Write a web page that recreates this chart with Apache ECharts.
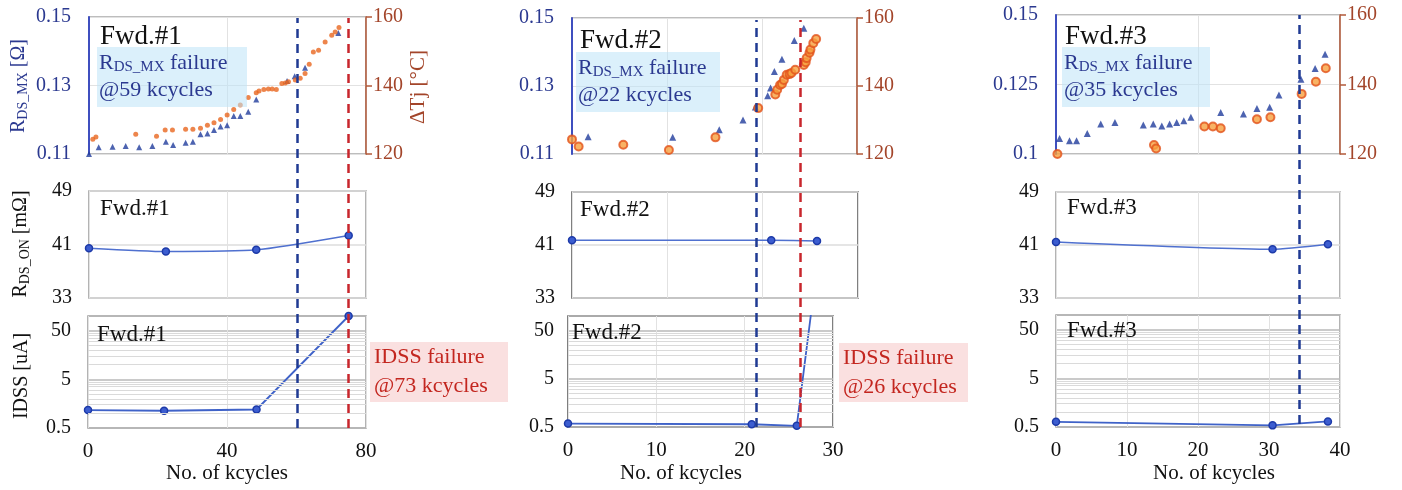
<!DOCTYPE html>
<html>
<head>
<meta charset="utf-8">
<script src="https://cdn.jsdelivr.net/npm/echarts@6/dist/echarts.min.js"></script>
<style>
  html, body { margin: 0; padding: 0; background: #fff; }
  #chart { width: 1402px; height: 490px; }
</style>
</head>
<body>
<div id="chart"></div>
<script>
// ---------------- data ----------------
// x: kcycles, RDS_MX in ohm (left axis), junction temperature swing in degC (right axis)
const rdsMx1 = [[0,0.110],[2.8,0.1120],[6.8,0.1121],[10.6,0.1123],[14.5,0.1120],[18.3,0.1123],[22.2,0.1136],[24.3,0.1126],[27.9,0.1133],[30.0,0.1136],[32.2,0.1158],[34.2,0.1160],[36.1,0.1170],[38.0,0.1180],[39.9,0.1184],[41.8,0.1211],[43.7,0.1211],[46.0,0.1223],[48.3,0.1259],[57.2,0.1313],[59.4,0.1327],[62.4,0.1352],[72.0,0.1453]];
const tj1 = [[1.1,124.3],[2.0,125.0],[13.5,125.8],[19.5,125.2],[22.0,127.0],[24.1,127.0],[27.9,127.2],[30.0,127.2],[32.2,127.5],[34.2,128.4],[36.1,129.1],[38.0,130.1],[39.9,131.4],[41.8,133.0],[43.7,134.3],[46.0,136.5],[48.3,137.9],[49.1,138.4],[50.5,138.8],[51.8,139.0],[52.9,139.0],[54.1,138.8],[55.7,140.6],[56.7,140.7],[57.6,141.1],[59.6,141.6],[61.0,142.1],[62.4,143.5],[63.6,146.2],[64.8,149.8],[66.3,150.3],[68.2,152.7],[70.1,154.7],[71.1,155.6],[72.2,156.9]];

const rdsMx2 = [[1.7,0.1151],[10.6,0.1149],[15.5,0.1171],[18.0,0.1200],[19.3,0.1238],[20.6,0.1271],[20.9,0.1294],[21.3,0.1343],[22.1,0.1379],[23.4,0.1434],[24.4,0.1470]];
const tj2 = [[0.0,124.3],[0.7,122.2],[5.4,122.7],[10.2,121.2],[15.1,124.9],[19.6,133.5],[21.4,137.5],[21.6,138.9],[21.9,140.3],[22.1,140.6],[22.3,141.8],[22.6,143.3],[22.9,143.5],[23.1,143.8],[23.5,144.8],[24.4,146.2],[24.6,147.0],[24.7,148.2],[25.0,149.8],[25.1,150.7],[25.4,152.6],[25.7,153.8]];

const rdsMx3 = [[0.5,0.1056],[1.9,0.1048],[2.9,0.1048],[4.4,0.1074],[6.3,0.1108],[8.3,0.1113],[12.3,0.1104],[13.7,0.1108],[14.9,0.1101],[16.0,0.1108],[17.0,0.1113],[18.0,0.1120],[19.0,0.1132],[23.2,0.1149],[26.4,0.1144],[28.3,0.1164],[30.1,0.1168],[31.4,0.1212],[34.5,0.1269],[36.5,0.1308],[37.9,0.1359]];
const tj3 = [[0.2,120.0],[13.8,122.6],[14.1,121.6],[20.9,127.9],[22.1,127.9],[23.2,127.4],[28.3,130.0],[30.2,130.6],[34.6,137.3],[36.6,140.8],[38.0,144.7]];

// on-state resistance in mOhm
const rdsOn1 = [[0,40.45],[22.2,39.95],[48.3,40.2],[75,42.35]];
const rdsOn2 = [[0,41.7],[20.9,41.7],[25.7,41.6]];
const rdsOn3 = [[0,41.45],[30.5,40.35],[38.3,41.1]];

// drain leakage in uA
const idss1 = [[0,1.17],[21.9,1.13],[48.5,1.2],[75,100]];
const idss2 = [[0,0.59],[20.8,0.57],[25.9,0.53],[27.6,150]];
const idss3 = [[0,0.64],[30.5,0.54],[38.3,0.65]];

// failure markers (kcycles): RDS_MX failure (blue), IDSS failure (red)
const rdsFailAt = [60.1, 21.3, 34.3];
const idssFailAt = [75.0, 26.3, null];

const deviceNames = ['Fwd.#1', 'Fwd.#2', 'Fwd.#3'];
const rdsFailText = ['@59 kcycles', '@22 kcycles', '@35 kcycles'];
const idssFailText = ['@73 kcycles', '@26 kcycles', null];

// axes
const xMax = [80, 30, 40];
const xStepBottom = [40, 10, 10];
const xStepTop = [40, 10, 20];
const rdsMxRange = [[0.11, 0.15, 0.02], [0.11, 0.15, 0.02], [0.10, 0.15, 0.025]];
const tjRange = [120, 160, 20];
const rdsOnRange = [33, 49, 8];
const idssTicks = [0.5, 5, 50];
const idssTop = 100;
const idssMinor = [1, 1.5, 2, 2.5, 3, 3.5, 4, 4.5, 10, 15, 20, 25, 30, 35, 40, 45];

// ---------------- layout ----------------
const FONT = 'Liberation Serif';
const NAVY = '#2b3990';
const BROWN = '#a3452a';
const BLUE_DASH = '#1f3a93';
const RED_DASH = '#c8262c';

// [left, width] for top / middle / bottom rows of each column
const colBox = [
  { top: [89, 277], mid: [89, 277], bot: [88, 278] },
  { top: [572, 285], mid: [572, 286], bot: [568, 265] },
  { top: [1056, 284], mid: [1056, 284], bot: [1056, 284] }
];
const rowY = [
  { top: [17, 137], mid: [191, 107], bot: [316, 112] },
  { top: [18, 136], mid: [192, 106], bot: [316, 111] },
  { top: [15, 139], mid: [192, 106], bot: [315, 112] }
];
const overlayY = [[18, 410], [20, 407], [15, 409]];
const borderCol = ['#9a9a9a', '#555555', '#9a9a9a'];

const toLog = v => Math.log10(v / idssTicks[0]);

const grids = [], xAxes = [], yAxes = [], series = [];

function addGrid(left, width, top, height, border) {
  grids.push({
    left, width, top, height, containLabel: false,
    show: !!border, borderColor: border || 'transparent', borderWidth: 1.5,
    backgroundColor: 'transparent'
  });
  return grids.length - 1;
}

function addX(gi, max, interval, labels) {
  xAxes.push({
    type: 'value', gridIndex: gi, min: 0, max, interval,
    axisLine: { show: false }, axisTick: { show: false },
    axisLabel: { show: labels, color: '#111', fontFamily: FONT, fontSize: 21, margin: 13 },
    splitLine: { show: true, lineStyle: { color: '#e2e2e2', width: 1 } }
  });
  return xAxes.length - 1;
}

function addY(cfg) {
  yAxes.push(Object.assign({ type: 'value' }, cfg));
  return yAxes.length - 1;
}

for (let c = 0; c < 3; c++) {
  const bx = colBox[c], ry = rowY[c];
  const rdsMx = [rdsMx1, rdsMx2, rdsMx3][c];
  const tj = [tj1, tj2, tj3][c];
  const rdsOn = [rdsOn1, rdsOn2, rdsOn3][c];
  const idss = [idss1, idss2, idss3][c];

  // ---- top: RDS_MX and junction temperature swing ----
  let g = addGrid(bx.top[0], bx.top[1], ry.top[0], ry.top[1], '#a8a8a8');
  let xi = addX(g, xMax[c], xStepTop[c], false);
  const rr = rdsMxRange[c];
  let yl = addY({
    gridIndex: g, position: 'left', min: rr[0], max: rr[1], interval: rr[2],
    axisLine: { show: true, onZero: false, lineStyle: { color: '#3f4fbf', width: 2 } },
    axisTick: { show: false },
    axisLabel: { color: NAVY, fontFamily: FONT, fontSize: 20, margin: 18 },
    splitLine: { show: true, lineStyle: { color: '#e2e2e2', width: 1 } }
  });
  let yr = addY({
    gridIndex: g, position: 'right', min: tjRange[0], max: tjRange[1], interval: tjRange[2],
    axisLine: { show: true, onZero: false, lineStyle: { color: '#b35a3a', width: 1.5 } },
    axisTick: { show: true, inside: false, length: 6, lineStyle: { color: '#b35a3a', width: 1.5 } },
    axisLabel: { color: BROWN, fontFamily: FONT, fontSize: 20, margin: 7 },
    splitLine: { show: false }
  });
  series.push({
    type: 'scatter', xAxisIndex: xi, yAxisIndex: yl, data: rdsMx,
    symbol: 'triangle', symbolSize: c === 0 ? 6 : 7,
    itemStyle: { color: '#203c9c' }, z: 3
  });
  series.push({
    type: 'scatter', xAxisIndex: xi, yAxisIndex: yr, data: tj,
    symbol: 'circle', symbolSize: c === 0 ? 5 : 8,
    itemStyle: c === 0 ? { color: '#e8661f' } : { color: '#f6a03e', borderColor: '#e2531c', borderWidth: 2 },
    z: 4
  });

  // ---- middle: RDS_ON ----
  g = addGrid(bx.mid[0], bx.mid[1], ry.mid[0], ry.mid[1], borderCol[c]);
  xi = addX(g, xMax[c], xStepTop[c], false);
  let ym = addY({
    gridIndex: g, min: rdsOnRange[0], max: rdsOnRange[1], interval: rdsOnRange[2],
    axisLine: { show: false }, axisTick: { show: false },
    axisLabel: { color: '#111', fontFamily: FONT, fontSize: 20, margin: 17 },
    splitLine: { show: true, lineStyle: { color: '#dcdcdc', width: 1.5 } }
  });
  series.push({
    type: 'line', xAxisIndex: xi, yAxisIndex: ym, data: rdsOn, smooth: 0.2,
    symbol: 'circle', symbolSize: 7,
    lineStyle: { color: '#4f70cf', width: 1.5 },
    itemStyle: { color: '#3c5dd0', borderColor: '#1d3aa8', borderWidth: 1.5 }, z: 3
  });

  // ---- bottom: IDSS on a logarithmic scale ----
  g = addGrid(bx.bot[0], bx.bot[1], ry.bot[0], ry.bot[1], borderCol[c]);
  xi = addX(g, xMax[c], xStepBottom[c], true);
  let yb = addY({
    gridIndex: g, min: 0, max: toLog(idssTop), interval: 1,
    axisLine: { show: false }, axisTick: { show: false },
    axisLabel: {
      color: '#111', fontFamily: FONT, fontSize: 20, margin: c === 1 ? 14 : 17,
      formatter: v => {
        const k = Math.round(v);
        return Math.abs(v - k) < 1e-6 && idssTicks[k] !== undefined ? String(idssTicks[k]) : '';
      }
    },
    splitLine: { show: true, lineStyle: { color: '#b8b8b8', width: 1.5 } }
  });
  // minor log gridlines
  series.push({
    type: 'line', xAxisIndex: xi, yAxisIndex: yb, data: [], silent: true, z: 1,
    markLine: {
      silent: true, symbol: ['none', 'none'], label: { show: false }, animation: false,
      lineStyle: { color: '#dadada', width: 1, type: 'solid' },
      data: idssMinor.map(v => ({ yAxis: toLog(v) }))
    }
  });
  series.push({
    type: 'line', xAxisIndex: xi, yAxisIndex: yb, clip: true,
    data: idss.map(p => [p[0], toLog(p[1])]), smooth: false,
    symbol: 'circle', symbolSize: 7,
    lineStyle: { color: '#3f62c8', width: 1.8 },
    itemStyle: { color: '#3c5dd0', borderColor: '#1d3aa8', borderWidth: 1.5 }, z: 3
  });
}

// ---- dashed failure markers spanning each column ----
for (let c = 0; c < 3; c++) {
  const g = addGrid(colBox[c].bot[0], colBox[c].bot[1], overlayY[c][0], overlayY[c][1], null);
  const xi = xAxes.push({
    type: 'value', gridIndex: g, min: 0, max: xMax[c], show: false,
    splitLine: { show: false }
  }) - 1;
  const yi = addY({ gridIndex: g, min: 0, max: 1, show: false, splitLine: { show: false } });
  const lines = [{ xAxis: rdsFailAt[c], lineStyle: { color: BLUE_DASH } }];
  if (idssFailAt[c] !== null) lines.push({ xAxis: idssFailAt[c], lineStyle: { color: RED_DASH } });
  series.push({
    type: 'line', xAxisIndex: xi, yAxisIndex: yi, data: [], silent: true, z: 10,
    markLine: {
      silent: true, symbol: ['none', 'none'], label: { show: false }, animation: false,
      lineStyle: { width: 2.5, type: [9, 6] },
      data: lines.map(l => [{ xAxis: l.xAxis, yAxis: 0, lineStyle: l.lineStyle }, { xAxis: l.xAxis, yAxis: 1 }])
    }
  });
}

// ---------------- text annotations ----------------
const graphic = [];
function txt(x, y, text, size, color, extra) {
  graphic.push(Object.assign({
    type: 'text', x, y, z: 20,
    style: Object.assign({
      text, fill: color, fontFamily: FONT, fontSize: size,
      textAlign: 'left', textVerticalAlign: 'middle'
    }, (extra && extra.style) || {})
  }, extra && extra.rotation !== undefined ? { rotation: extra.rotation } : {}));
}
function box(x, y, w, h, fill) {
  graphic.push({ type: 'rect', z: 15, shape: { x, y, width: w, height: h }, style: { fill } });
}

// axis titles of the first column
const subRich = (size, color) => ({
  m: { fontFamily: FONT, fontSize: size, fill: color, color, verticalAlign: 'middle', lineHeight: size + 2 },
  s: { fontFamily: FONT, fontSize: Math.round(size * 0.68), fill: color, color, verticalAlign: 'bottom', lineHeight: size - 2 }
});
txt(19, 86, '{m|R}{s|DS_MX}{m| [Ω]}', 20, NAVY, { rotation: Math.PI / 2, style: { textAlign: 'center', rich: subRich(20, NAVY) } });
txt(418, 87, 'ΔTj [°C]', 21, BROWN, { rotation: Math.PI / 2, style: { textAlign: 'center' } });
txt(21, 244, '{m|R}{s|DS_ON}{m| [mΩ]}', 20, '#111', { rotation: Math.PI / 2, style: { textAlign: 'center', rich: subRich(20, '#111') } });
txt(22, 376, 'IDSS [uA]', 20, '#111', { rotation: Math.PI / 2, style: { textAlign: 'center' } });

// x axis titles
txt(227, 473, 'No. of kcycles', 21, '#111', { style: { textAlign: 'center' } });
txt(681, 473, 'No. of kcycles', 21, '#111', { style: { textAlign: 'center' } });
txt(1214, 473, 'No. of kcycles', 21, '#111', { style: { textAlign: 'center' } });

// device labels
const nameTop = [[100, 37], [580, 41], [1065, 37]];
const nameMid = [[100, 209], [580, 210], [1067, 208]];
const nameBot = [[97, 335], [572, 333], [1067, 331]];
for (let c = 0; c < 3; c++) {
  txt(nameTop[c][0], nameTop[c][1], deviceNames[c], 27, '#111');
  txt(nameMid[c][0], nameMid[c][1], deviceNames[c], 23, '#111');
  txt(nameBot[c][0], nameBot[c][1], deviceNames[c], 23, '#111');
}

// RDS_MX failure boxes
const rdsBox = [[97, 47, 150, 60], [576, 52, 144, 60], [1062, 47, 148, 60]];
for (let c = 0; c < 3; c++) {
  const b = rdsBox[c];
  box(b[0], b[1], b[2], b[3], 'rgba(190,228,247,0.55)');
  txt(b[0] + 2, b[1] + 16, '{m|R}{s|DS_MX}{m| failure}', 22, NAVY, { style: { rich: subRich(22, NAVY) } });
  txt(b[0] + 2, b[1] + 43, rdsFailText[c], 22, NAVY);
}

// IDSS failure boxes
const idssBox = [[370, 342, 138, 60], [839, 343, 129, 59]];
for (let c = 0; c < 2; c++) {
  const b = idssBox[c];
  box(b[0], b[1], b[2], b[3], 'rgba(248,214,214,0.75)');
  txt(b[0] + 4, b[1] + 15, 'IDSS failure', 22, '#c3261f');
  txt(b[0] + 4, b[1] + 44, idssFailText[c], 22, '#c3261f');
}

const chart = echarts.init(document.getElementById('chart'), null, { renderer: 'canvas' });
chart.setOption({
  animation: false,
  backgroundColor: '#ffffff',
  grid: grids,
  xAxis: xAxes,
  yAxis: yAxes,
  series,
  graphic
});
</script>
</body>
</html>
